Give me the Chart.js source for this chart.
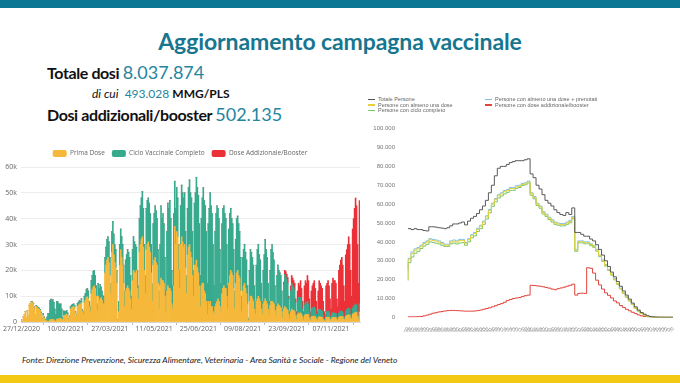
<!DOCTYPE html>
<html>
<head>
<meta charset="utf-8">
<script src="https://cdn.jsdelivr.net/npm/chart.js@4.4.0/dist/chart.umd.min.js"></script>
<style>
  body { margin: 0; width: 680px; height: 383px; position: relative; overflow: hidden; background: #fff; font-family: Lato, sans-serif; }
  .topbar { position: absolute; left: 0; top: 0; width: 680px; height: 8px; background: #0b7795; }
  .bottombar { position: absolute; left: 0; top: 375px; width: 680px; height: 8px; background: #f3c913; }
  .title { position: absolute; left: 0; top: 27px; width: 680px; text-align: center; font-size: 23px; font-weight: 700; color: #17768f; letter-spacing: -0.1px; }
  .line1 { position: absolute; left: 47px; top: 61px; font-size: 16px; font-weight: 700; color: #111; letter-spacing: -0.4px; }
  .line2 { position: absolute; left: 92px; top: 86px; font-size: 12px; color: #111; }
  .line3 { position: absolute; left: 47px; top: 103px; font-size: 16px; font-weight: 700; color: #111; letter-spacing: -0.4px; }
  .num { color: #2485a0; font-weight: 400; }
  .big { font-size: 18px; letter-spacing: 0; }
  .fonte { position: absolute; left: 22px; top: 355px; font-size: 8.5px; font-style: italic; color: #222; }
  #chartDosi { position: absolute; left: 0; top: 143px; }
  #chartPersone { position: absolute; left: 360px; top: 112px; }
  .leg { position: absolute; font-family: "Liberation Sans", Arial, sans-serif; font-size: 5.5px; color: #666; white-space: nowrap; }
  .leg i { display: inline-block; width: 7px; height: 1.5px; vertical-align: middle; margin-right: 3px; }
</style>
</head>
<body>
<div class="topbar"></div>
<div class="title">Aggiornamento campagna vaccinale</div>
<div class="line1">Totale dosi <span class="num big">8.037.874</span></div>
<div class="line2"><i>di cui</i> &nbsp;<span class="num">493.028</span> <b>MMG/PLS</b></div>
<div class="line3">Dosi addizionali/booster <span class="num big">502.135</span></div>

<canvas id="chartDosi" width="362" height="190"></canvas>

<div class="leg" style="left:368px;top:96px"><i style="background:#555"></i>Totale Persone</div>
<div class="leg" style="left:368px;top:101.5px"><i style="background:#e6d23c"></i>Persone con almeno una dose</div>
<div class="leg" style="left:368px;top:107px"><i style="background:#7dc46b"></i>Persone con ciclo completo</div>
<div class="leg" style="left:485px;top:96px"><i style="background:#7ec0e6"></i>Persone con almeno una dose + prenotati</div>
<div class="leg" style="left:485px;top:101.5px"><i style="background:#e2433d"></i>Persone con dose addizionale/booster</div>
<canvas id="chartPersone" width="320" height="222"></canvas>

<div class="fonte">Fonte: Direzione Prevenzione, Sicurezza Alimentare, Veterinaria - Area Sanità e Sociale - Regione del Veneto</div>
<div class="bottombar"></div>

<script>
// daily doses (thousands), one value per day starting from 27/12/2020 (Sunday)
const tickLabels = ['27/12/2020', '10/02/2021', '27/03/2021', '11/05/2021', '25/06/2021', '09/08/2021', '23/09/2021', '07/11/2021'];

const primaDose = [
  0.8,0.2,2.0,3.0,4.0,1.5,4.5, 2.5,6.5,7.2,7.8,7.5,7.0,5.5, 2.5,6.0,5.5,5.2,5.0,4.5,3.5,
  1.0,2.5,1.5,0.8,0.5,0.4,0.4, 0.3,0.8,0.9,1.0,0.9,0.8,0.5, 0.3,1.0,1.2,1.2,1.3,1.5,1.0,
  0.8,2.5,2.5,2.8,3.0,2.5,1.0, 1.8,5.0,5.5,5.8,6.0,5.5,3.5, 2.5,6.0,6.5,7.0,6.8,7.5,4.0,
  3.0,7.5,8.5,9.5,9.8,9.0,6.0, 4.0,11.0,12.5,13.5,14.0,13.0,10.0, 4.5,10.0,8.0,9.0,9.5,8.5,7.0,
  7.0,19.0,22.0,24.0,25.0,23.0,18.0, 11.0,27.0,30.0,26.0,23.0,21.0,15.0, 0.5,4.0,22.0,28.0,25.0,22.0,15.0,
  6.0,12.0,13.0,14.0,13.0,12.0,9.0, 5.0,16.0,20.0,19.0,19.0,20.0,13.0, 9.0,27.0,30.0,32.0,33.0,29.0,20.0,
  11.0,28.0,30.0,31.0,29.0,27.0,19.0, 8.0,22.0,24.0,25.0,23.0,22.0,15.0, 5.0,14.0,17.0,16.0,16.0,15.0,10.0,
  4.0,12.0,14.0,13.0,13.0,12.0,7.0, 5.0,14.0,37.0,30.0,35.0,33.0,20.0, 13.0,30.0,33.0,31.0,29.0,30.0,21.0,
  11.0,26.0,29.0,30.0,27.0,25.0,18.0, 10.0,22.0,22.0,24.0,21.0,19.0,14.0, 6.0,14.0,15.0,15.0,12.0,11.0,8.0,
  3.0,8.0,7.0,8.0,6.0,6.0,4.0, 3.0,6.0,7.0,8.0,9.0,8.0,6.0, 4.0,11.0,13.0,14.0,13.0,13.0,10.0,
  5.0,15.0,18.0,20.0,19.0,18.0,13.0, 5.0,15.0,19.0,20.0,18.0,17.0,12.0, 4.0,12.0,14.0,15.0,13.0,11.0,7.0,
  0.5,8.0,10.0,10.0,9.0,8.0,5.0, 3.0,8.0,9.0,10.0,9.0,8.0,5.0, 3.0,7.0,8.0,9.0,8.0,7.0,5.0,
  2.5,6.5,8.0,8.0,7.5,7.0,4.5, 2.5,6.0,7.0,6.5,6.0,5.5,4.0, 1.5,5.0,6.0,5.5,5.0,4.5,3.0,
  1.2,4.0,5.0,4.5,4.5,4.0,2.5, 1.0,3.0,3.5,3.0,3.5,3.0,2.0, 0.8,2.5,3.0,2.8,3.0,2.8,1.5,
  0.6,2.0,2.2,2.2,2.3,2.0,1.2, 0.5,1.8,2.0,2.0,1.8,1.7,1.0, 0.5,0.4,1.8,1.8,1.9,1.7,1.0,
  0.5,1.6,1.8,1.8,1.7,1.7,1.0, 0.6,1.8,2.0,2.2,2.2,2.0,1.2, 0.8,2.2,2.5,2.7,2.8,2.6,1.6,
  1.0,3.0,3.3,3.5,3.8,3.6,2.2, 1.2,3.8
];

const cicloCompleto = [
  0,0,0,0,0,0,0, 0,0,0,0.2,0.3,0.3,0.3, 0.2,0.4,0.4,0.5,0.4,0.4,0.3,
  0.5,0.8,0.5,0.3,0.2,1.5,3.0, 3.0,7.5,8.0,7.2,7.8,6.8,4.5, 2.5,7.0,6.5,5.8,5.5,5.5,4.0,
  1.0,1.8,1.5,1.2,1.5,1.0,0.3, 0.5,1.0,1.0,1.0,1.0,1.0,0.5, 0.5,1.2,1.2,1.3,1.2,1.5,0.8,
  1.0,2.5,2.5,3.0,3.2,3.0,2.0, 2.0,5.0,5.5,6.0,6.0,5.0,4.0, 2.5,5.0,5.0,5.5,4.0,3.5,3.0,
  3.0,6.0,7.0,8.0,8.0,8.0,7.0, 4.0,8.0,9.0,8.0,7.0,7.0,5.0, 0.5,4.0,8.0,8.0,8.0,8.0,7.0,
  6.0,12.0,13.0,14.0,14.0,13.0,9.0, 5.0,12.0,13.0,12.0,11.0,9.0,7.0, 5.0,13.0,15.0,16.0,17.5,15.0,10.0,
  7.0,16.0,17.0,17.0,17.0,15.0,11.0, 7.0,16.0,18.0,20.0,20.0,18.0,13.0, 7.0,16.0,28.0,24.0,26.0,23.0,15.0,
  8.0,23.0,32.0,31.0,34.0,28.0,13.0, 9.0,28.0,17.5,14.0,17.0,15.0,10.0, 7.0,15.0,20.0,19.0,19.0,20.0,14.0,
  7.0,18.0,23.0,25.0,23.0,23.0,17.0, 10.0,24.0,28.0,32.0,31.0,30.0,24.0, 12.0,26.0,33.0,37.0,35.0,34.0,27.0,
  12.0,30.0,37.0,42.0,39.0,36.0,26.0, 11.0,29.0,35.0,37.0,35.0,32.0,22.0, 11.0,27.0,31.0,31.0,29.0,27.0,20.0,
  9.0,21.0,24.0,24.0,21.0,20.0,15.0, 7.0,17.0,21.0,21.0,20.0,18.0,13.0, 6.0,13.0,14.0,15.0,14.0,13.0,7.0,
  1.0,12.0,18.0,17.0,16.0,14.0,9.0, 5.0,14.0,19.0,20.0,17.0,16.0,10.0, 5.0,13.0,18.0,23.0,20.0,18.0,10.0,
  5.5,13.5,20.0,22.0,19.5,17.0,9.5, 4.5,12.0,15.0,13.5,13.0,12.5,8.0, 3.0,9.5,12.5,12.0,11.5,10.5,6.0,
  2.3,8.0,10.0,9.5,9.0,8.5,5.0, 1.5,5.0,6.0,5.5,6.0,5.0,3.0, 1.2,4.0,4.5,4.2,5.0,4.2,2.5,
  1.0,3.0,3.3,3.3,3.5,3.0,1.8, 0.8,2.7,3.0,2.8,2.7,2.5,1.5, 0.7,0.6,2.2,2.2,2.3,2.1,1.3,
  0.6,1.6,1.8,1.7,1.8,1.6,1.0, 0.6,1.7,1.9,2.0,2.0,1.8,1.1, 0.8,2.0,2.3,2.5,2.6,2.4,1.5,
  0.9,2.5,2.8,3.0,3.2,3.0,1.9, 1.0,3.2
];

const boosterDose = [
  0,0,0,0,0,0,0, 0,0,0,0,0,0,0, 0,0,0,0,0,0,0,
  0,0,0,0,0,0,0, 0,0,0,0,0,0,0, 0,0,0,0,0,0,0,
  0,0,0,0,0,0,0, 0,0,0,0,0,0,0, 0,0,0,0,0,0,0,
  0,0,0,0,0,0,0, 0,0,0,0,0,0,0, 0,0,0,0,0,0,0,
  0,0,0,0,0,0,0, 0,0,0,0,0,0,0, 0,0,0,0,0,0,0,
  0,0,0,0,0,0,0, 0,0,0,0,0,0,0, 0,0,0,0,0,0,0,
  0,0,0,0,0,0,0, 0,0,0,0,0,0,0, 0,0,0,0,0,0,0,
  0,0,0,0,0,0,0, 0,0,0,0,0,0,0, 0,0,0,0,0,0,0,
  0,0,0,0,0,0,0, 0,0,0,0,0,0,0, 0,0,0,0,0,0,0,
  0,0,0,0,0,0,0, 0,0,0,0,0,0,0, 0,0,0,0,0,0,0,
  0,0,0,0,0,0,0, 0,0,0,0,0,0,0, 0,0,0,0,0,0,0,
  0,0,0,0,0,0,0, 0,0,0,0,0,0,0, 0,0,0,0,0,0,0,
  0,0,0,0,0,0,0, 0,0,0,0,0,0,0, 0.2,1.0,1.5,2.0,2.0,2.2,1.0,
  0.5,2.0,3.0,3.0,2.5,2.5,1.5, 1.5,4.0,5.5,5.5,6.5,5.0,3.0, 2.0,7.5,8.5,8.0,10.0,9.0,5.0,
  2.4,7.0,8.5,9.5,10.2,8.0,5.0, 2.7,7.5,11.0,10.2,9.5,8.8,5.5, 2.8,2.0,10.0,11.0,11.8,10.2,6.7,
  3.9,11.8,13.4,12.5,12.5,11.7,7.0, 4.8,16.5,18.1,19.8,20.8,18.2,11.7, 6.4,21.8,23.2,24.8,27.6,25.0,16.9,
  8.1,30.5,33.9,37.5,41.0,38.4,25.9, 12.8,40.0
];

// persons by year of birth (2009 ... 1920)
const anniNascita = [];
for (let y = 2009; y >= 1920; y--) anniNascita.push(String(y));

const totalePersone = [
  47000,47000,46500,47000,46500,46500,46000,45800,48000,48000,
  47800,47500,47300,47000,47500,48500,49500,49500,50000,50500,
  49000,51000,52500,53500,55000,57000,59000,62000,66000,70000,
  75000,79000,80000,80000,81000,82000,82500,83000,83000,83000,
  83500,84000,76000,74000,70000,68000,65000,62000,60500,59000,
  57000,55500,54500,54000,55500,54500,58000,45000,45000,44000,
  43000,43000,41500,40500,38500,36000,33000,30000,27000,24000,
  21500,19000,16500,14000,11800,9700,7600,5600,3900,2600,
  1700,900,500,250,120,50,30,20,10,0
];
const almenoUnaDose = [
  20000,30500,33800,35600,36400,37700,39100,39900,41100,40700,
  40400,39900,39100,38200,38200,39900,40400,39900,40700,40700,
  39100,41100,43200,44400,46600,48200,50400,53200,56600,59900,
  62400,64400,65400,66600,67100,68200,68200,69100,69400,70400,
  70700,71600,65500,63500,60000,58500,55500,54200,52500,51200,
  50000,49500,49200,49200,50000,50800,53000,35600,40100,40100,
  39600,39600,38600,37600,35600,32600,30100,27600,25200,22700,
  20200,17800,15300,12800,10800,8800,6900,4900,3400,2100,
  1250,580,290,190,100,50,30,20,10,0
];
const cicloCompletoPersone = [
  19500,29000,32000,34000,35000,36500,37800,38700,40000,39700,
  39300,38900,38200,37600,37600,39000,39400,38900,39400,39600,
  38200,40000,42100,43200,45500,47000,49300,52100,55400,58800,
  61200,63200,64300,65400,66200,67300,67300,68400,68800,69800,
  70300,71200,64700,62800,59300,57800,54800,53500,51800,50500,
  49300,48800,48400,48500,49300,50100,52300,35000,39500,39500,
  39000,39000,38000,37100,35100,32200,29700,27200,24800,22400,
  19900,17500,15100,12600,10600,8700,6800,4800,3300,2050,
  1200,550,280,180,90,40,25,15,8,0
];
const prenotati = [
  25000,31300,34700,36300,37000,38300,39700,40500,41700,41300,
  41000,40500,39700,38800,38800,40500,41000,40500,41300,41300,
  39700,41700,43800,45000,47200,48800,51000,53800,57200,60500,
  63000,65000,66000,67200,67700,68800,68800,69700,70000,71000,
  71300,72200,66000,64000,60500,59000,56000,54700,53000,51700,
  50500,50000,49700,49700,50500,51300,53500,36000,40500,40500,
  40000,40000,39000,38000,36000,33000,30500,28000,25500,23000,
  20500,18000,15500,13000,11000,9000,7000,5000,3500,2200,
  1300,600,300,200,100,50,30,20,10,0
];
const boosterPersone = [
  300,300,300,300,400,500,800,1200,1700,2200,
  2500,2900,3100,3400,3600,3700,3700,3600,3500,3400,
  3300,3300,3300,3400,3600,3900,4300,4700,5100,5600,
  6200,6800,7300,8000,9000,9500,10000,10300,10500,11000,
  11500,11800,17000,16900,16700,16500,16200,15800,15500,15000,
  14700,15200,15600,16000,16500,17000,17600,11800,12700,12800,
  12700,26300,26000,23500,19700,17200,15000,13000,11700,10300,
  8700,7700,6300,5300,4300,3500,2700,2000,1300,800,
  500,300,200,100,100,100,100,100,100,100
];

// day labels for the left chart
const days = [];
for (let i = 0; i < primaDose.length; i++) {
  const d = new Date(2020, 11, 27 + i);
  days.push(String(d.getDate()).padStart(2, '0') + '/' + String(d.getMonth() + 1).padStart(2, '0') + '/' + d.getFullYear());
}

function puntini(v) {
  return String(v).replace(/\B(?=(\d{3})+(?!\d))/g, '.');
}

new Chart(document.getElementById('chartDosi'), {
  type: 'bar',
  data: {
    labels: days,
    datasets: [
      { label: 'Prima Dose', data: primaDose, backgroundColor: '#f6b83a' },
      { label: 'Ciclo Vaccinale Completo', data: cicloCompleto, backgroundColor: '#37aa8e' },
      { label: 'Dose Addizionale/Booster', data: boosterDose, backgroundColor: '#eb3038' }
    ]
  },
  options: {
    animation: false,
    responsive: false,
    datasets: { bar: { barPercentage: 1, categoryPercentage: 1, borderWidth: 0 } },
    layout: { padding: { top: 0, right: 2 } },
    plugins: {
      legend: {
        labels: {
          boxWidth: 14, boxHeight: 7, padding: 7, color: '#666',
          font: { family: 'Open Sans', size: 6.5 },
          useBorderRadius: true, borderRadius: 2
        }
      },
      tooltip: { enabled: false }
    },
    scales: {
      x: {
        stacked: true,
        grid: { drawOnChartArea: false, tickLength: 3, color: '#bbb' },
        border: { color: '#d5d5d5' },
        ticks: {
          autoSkip: false, maxRotation: 0, padding: 0, color: '#666',
          font: { family: 'Open Sans', size: 7 },
          callback: (v, i) => tickLabels.includes(days[i]) ? days[i] : null
        },
        afterFit: s => { s.height = 11; }
      },
      y: {
        stacked: true, min: 0, max: 60,
        grid: { color: '#ececec', drawTicks: false },
        border: { display: false },
        ticks: {
          stepSize: 10, color: '#666', padding: 4,
          font: { family: 'Open Sans', size: 7 },
          callback: v => v === 0 ? '0' : v + 'k'
        },
        afterFit: s => { s.width = 21; }
      }
    }
  }
});

new Chart(document.getElementById('chartPersone'), {
  type: 'line',
  data: {
    labels: anniNascita,
    datasets: [
      { label: 'Totale Persone', data: totalePersone, borderColor: '#5a5a5a' },
      { label: 'Persone con almeno una dose', data: almenoUnaDose, borderColor: '#e6d23c' },
      { label: 'Persone con ciclo completo', data: cicloCompletoPersone, borderColor: '#7dc46b' },
      { label: 'Persone con almeno una dose + prenotati', data: prenotati, borderColor: '#7ec0e6' },
      { label: 'Persone con dose addizionale/booster', data: boosterPersone, borderColor: '#e2433d' }
    ]
  },
  options: {
    animation: false,
    responsive: false,
    datasets: { line: { borderWidth: 1, stepped: 'after', pointRadius: 0, fill: false } },
    layout: { padding: { top: 7, right: 7 } },
    plugins: { legend: { display: false }, tooltip: { enabled: false } },
    scales: {
      x: {
        offset: false,
        grid: { display: false },
        border: { display: false },
        ticks: { autoSkip: false, minRotation: 60, maxRotation: 60, padding: 1, color: '#888', font: { family: 'Liberation Sans', size: 4.5 } },
        afterFit: s => { s.height = 14; }
      },
      y: {
        min: 0, max: 100000,
        grid: { display: false, drawTicks: false },
        border: { display: false },
        ticks: { stepSize: 10000, color: '#777', padding: 13, font: { family: 'Liberation Sans', size: 6 }, callback: v => puntini(v) },
        afterFit: s => { s.width = 48; }
      }
    }
  }
});
</script>
</body>
</html>
